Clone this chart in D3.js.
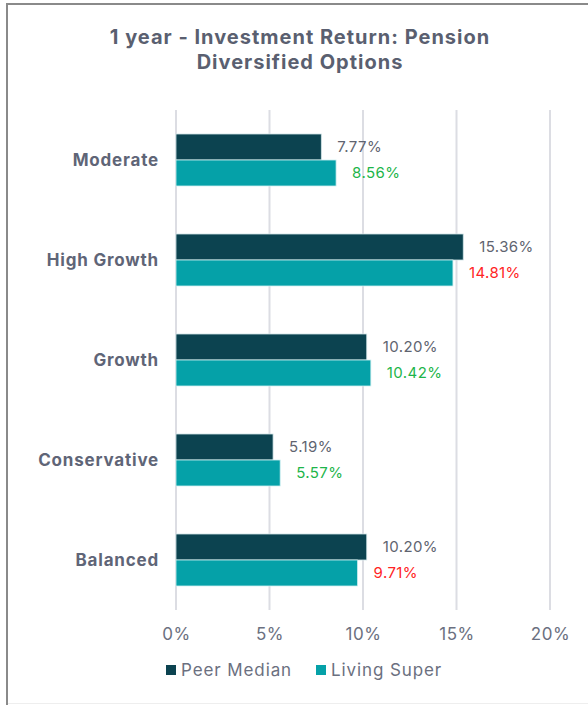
<!DOCTYPE html>
<html>
<head>
<meta charset="utf-8">
<script src="https://cdn.jsdelivr.net/npm/d3@7"></script>
<style>
  body { margin: 0; background: #fff; }
  .chart text { font-family: Inter, "Open Sans", sans-serif; }
</style>
</head>
<body>
<div class="chart"></div>
<script>
// Data
var categories = ["Moderate", "High Growth", "Growth", "Conservative", "Balanced"];
var peerMedian = [7.77, 15.36, 10.20, 5.19, 10.20];
var livingSuper = [8.56, 14.81, 10.42, 5.57, 9.71];
var xTicks = [0, 5, 10, 15, 20];
var seriesNames = ["Peer Median", "Living Super"];

var svgWidth = 588;
var svgHeight = 705;

var margin = { top: 110, left: 176, right: 38, bottom: 95 };

var svg = d3.select(".chart")
    .append("svg")
    .attr("width", svgWidth)
    .attr("height", svgHeight);

// frame (left and top edges visible, bottom faint)
svg.append("rect")
    .attr("x", 7)
    .attr("y", 4)
    .attr("width", 620)
    .attr("height", 740)
    .attr("fill", "none")
    .attr("stroke", "#8a8a8a")
    .attr("stroke-width", 2);

svg.append("line")
    .attr("x1", 8).attr("x2", 588)
    .attr("y1", 703.5).attr("y2", 703.5)
    .attr("stroke", "#eeeeee");

// title
var title = svg.append("text")
    .attr("text-anchor", "middle")
    .attr("fill", "#5a5f70")
    .attr("font-size", "20px")
    .attr("font-weight", "bold")
    .attr("letter-spacing", "1px");
title.append("tspan").attr("x", 300).attr("y", 44).text("1 year - Investment Return: Pension");
title.append("tspan").attr("x", 300).attr("y", 69).text("Diversified Options");

var xScale = d3.scaleLinear()
    .domain([0, 20])
    .range([margin.left, svgWidth - margin.right]);

var yScale = d3.scaleBand()
    .domain(categories)
    .range([margin.top, svgHeight - margin.bottom])
    .paddingInner(0.48)
    .paddingOuter(0.24);

var inner = d3.scaleBand()
    .domain(seriesNames)
    .range([0, yScale.bandwidth()]);

// grid
svg.append("g")
    .selectAll("line")
    .data(xTicks)
    .enter()
    .append("line")
    .attr("x1", function(d) { return xScale(d); })
    .attr("x2", function(d) { return xScale(d); })
    .attr("y1", margin.top)
    .attr("y2", svgHeight - margin.bottom)
    .attr("stroke", "#dcdde3")
    .attr("stroke-width", 2);

// x axis labels
var bottomAxis = d3.axisBottom(xScale)
    .tickValues(xTicks)
    .tickFormat(function(d) { return d + "%"; })
    .tickSize(0)
    .tickPadding(18);

var xAxis = svg.append("g")
    .attr("transform", "translate(0," + (svgHeight - margin.bottom) + ")")
    .call(bottomAxis);
xAxis.select(".domain").remove();
xAxis.selectAll("text")
    .attr("font-size", "17px")
    .attr("letter-spacing", "0.5px")
    .attr("fill", "#6b7080");

// category labels
var leftAxis = d3.axisLeft(yScale).tickSize(0).tickPadding(17);
var yAxis = svg.append("g")
    .attr("transform", "translate(" + margin.left + ",1)")
    .call(leftAxis);
yAxis.select(".domain").remove();
yAxis.selectAll("text")
    .attr("font-size", "17px")
    .attr("font-weight", "bold")
    .attr("letter-spacing", "0.8px")
    .attr("fill", "#5f6577");

var colors = ["#0c4350", "#05a1a8"];
var rows = categories.map(function(c, i) {
    return { cat: c, peer: peerMedian[i], ls: livingSuper[i] };
});

// bars
var groups = svg.selectAll(".grp")
    .data(rows)
    .enter()
    .append("g")
    .attr("class", "grp")
    .attr("transform", function(d) { return "translate(0," + yScale(d.cat) + ")"; });

groups.append("rect")
    .attr("x", xScale(0))
    .attr("y", inner("Peer Median"))
    .attr("width", function(d) { return xScale(d.peer) - xScale(0); })
    .attr("height", inner.bandwidth())
    .attr("fill", colors[0])
    .attr("stroke", "#cfe3e6")
    .attr("stroke-width", 0.8);

groups.append("rect")
    .attr("x", xScale(0))
    .attr("y", inner("Living Super"))
    .attr("width", function(d) { return xScale(d.ls) - xScale(0); })
    .attr("height", inner.bandwidth())
    .attr("fill", colors[1])
    .attr("stroke", "#cfeff0")
    .attr("stroke-width", 0.8);

// value labels
groups.append("text")
    .attr("x", function(d) { return xScale(d.peer) + 16; })
    .attr("y", inner("Peer Median") + inner.bandwidth() / 2)
    .attr("dy", "0.35em")
    .attr("font-size", "15px")
    .attr("letter-spacing", "0.4px")
    .attr("fill", "#5f6470")
    .text(function(d) { return d.peer.toFixed(2) + "%"; });

groups.append("text")
    .attr("x", function(d) { return xScale(d.ls) + 16; })
    .attr("y", inner("Living Super") + inner.bandwidth() / 2)
    .attr("dy", "0.35em")
    .attr("font-size", "15px")
    .attr("letter-spacing", "0.4px")
    .attr("fill", function(d) { return d.ls >= d.peer ? "#1db54a" : "#ff2424"; })
    .text(function(d) { return d.ls.toFixed(2) + "%"; });

// legend
var legendX = [166, 316];
var legend = svg.selectAll(".leg")
    .data(seriesNames)
    .enter()
    .append("g")
    .attr("class", "leg")
    .attr("transform", function(d, i) { return "translate(" + legendX[i] + ",665)"; });

legend.append("rect")
    .attr("width", 10)
    .attr("height", 10)
    .attr("fill", function(d, i) { return colors[i]; });

legend.append("text")
    .attr("x", 15)
    .attr("y", 5)
    .attr("dy", "0.35em")
    .attr("font-size", "17px")
    .attr("letter-spacing", "0.9px")
    .attr("fill", "#6b7080")
    .text(function(d) { return d; });
</script>
</body>
</html>
